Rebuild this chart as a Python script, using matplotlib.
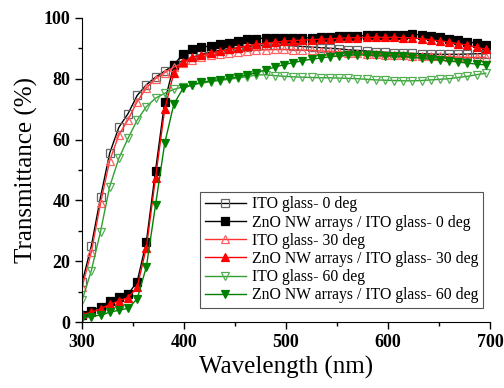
import numpy as np
import matplotlib
matplotlib.use("Agg")
import matplotlib.pyplot as plt
from matplotlib.ticker import MultipleLocator

# Wavelength points (nm), one per marker
wavelength = list(range(300, 700, 9))

# Transmittance (%) for each sample / angle
ito_0 = [13, 25, 41, 55.5, 64, 68.5, 74.5, 78, 80.5, 82.5, 84.5, 86, 87, 88, 88.8,
         89.3, 89.8, 90.2, 90.5, 90.8, 91, 91, 91, 90.8, 90.6, 90.4, 90.2, 90, 89.8,
         89.5, 89.3, 89.1, 88.9, 88.7, 88.5, 88.4, 88.3, 88.2, 88.1, 88, 88, 88, 88.1,
         88.2, 88.2]
zno_0 = [2.3, 3.7, 5, 6.9, 8.3, 9.1, 13.3, 26.4, 49.8, 72.5, 84.5, 88.2, 89.7, 90.3,
         90.8, 91.3, 91.8, 92.4, 92.9, 93.2, 93.3, 93.3, 93.3, 93.3, 93.4, 93.5, 93.6,
         93.8, 93.9, 94, 94.1, 94.2, 94.2, 94.3, 94.4, 94.5, 94.6, 94.4, 94, 93.6, 93.2,
         92.7, 92.2, 91.6, 91]
ito_30 = [11.5, 23, 39, 53, 61.5, 66.5, 72.5, 77, 80, 82, 83.8, 85.2, 86.3, 87.2, 87.8,
          88.2, 88.6, 88.9, 89.2, 89.4, 89.5, 89.6, 89.6, 89.5, 89.4, 89.3, 89.1, 89,
          88.8, 88.6, 88.4, 88.2, 88, 87.9, 87.8, 87.7, 87.6, 87.5, 87.4, 87.3, 87.2,
          87.1, 87, 87, 87]
zno_30 = [2.5, 3.2, 4.3, 5.8, 7, 8, 11.5, 24.5, 47.5, 70, 82, 85.5, 87, 87.8, 88.4, 89,
          89.6, 90.2, 90.8, 91.3, 91.7, 92, 92.3, 92.5, 92.7, 92.8, 93, 93.1, 93.3, 93.4,
          93.5, 93.6, 93.6, 93.6, 93.6, 93.5, 93.4, 93.1, 92.8, 92.4, 92, 91.5, 91, 90.3,
          89.7]
ito_60 = [7.2, 16.9, 29.7, 44.5, 53.8, 60.4, 66.4, 70.8, 73.6, 75.2, 76.5, 77.3, 78,
          78.5, 79, 79.4, 79.8, 80.2, 80.7, 81.2, 81.3, 81, 80.8, 80.6, 80.5, 80.4, 80.3,
          80.3, 80.2, 80.1, 80, 79.8, 79.6, 79.5, 79.4, 79.3, 79.3, 79.4, 79.6, 79.8, 80,
          80.4, 80.8, 81.3, 81.8]
zno_60 = [1.4, 1.8, 2.3, 3.2, 3.9, 4.5, 7.6, 18.2, 38.5, 58.8, 71.7, 76.8, 78, 78.8,
          79.3, 79.7, 80.1, 80.6, 81.2, 82, 82.9, 83.8, 84.6, 85.3, 85.9, 86.4, 86.8,
          87.2, 87.5, 87.7, 87.8, 87.8, 87.7, 87.6, 87.5, 87.3, 87, 86.7, 86.4, 86.1,
          85.8, 85.5, 85.1, 84.8, 84.5]

labels = ["ITO glass- 0 deg", "ZnO NW arrays / ITO glass- 0 deg",
          "ITO glass- 30 deg", "ZnO NW arrays / ITO glass- 30 deg",
          "ITO glass- 60 deg", "ZnO NW arrays / ITO glass- 60 deg"]

plt.rcParams['font.family'] = ['Liberation Serif', 'DejaVu Serif']

fig = plt.figure(figsize=(5.04, 3.88), dpi=100)
ax = fig.add_axes([0.163, 0.170, 0.809, 0.784])

# (data, line colour, marker, face colour, edge colour)
series = [
    (ito_0, 'black', 's', 'none', '#666666'),
    (zno_0, 'black', 's', 'black', 'black'),
    (ito_30, '#ff3030', '^', 'none', '#ff6060'),
    (zno_30, 'red', '^', 'red', 'red'),
    (ito_60, '#30a030', 'v', 'none', '#50b050'),
    (zno_60, 'green', 'v', 'green', 'green'),
]

for (vals, lc, mk, fc, ec), lab in zip(series, labels):
    ax.plot(wavelength, vals, color=lc, lw=1.0, marker=mk, ms=6,
            mfc=fc, mec=ec, mew=0.9, label=lab)

ax.set_xlim(300, 700)
ax.set_ylim(0, 100)
ax.xaxis.set_major_locator(MultipleLocator(100))
ax.xaxis.set_minor_locator(MultipleLocator(50))
ax.yaxis.set_major_locator(MultipleLocator(20))
ax.yaxis.set_minor_locator(MultipleLocator(10))

ax.spines['top'].set_visible(False)
ax.spines['right'].set_visible(False)
ax.tick_params(which='major', direction='out', length=5, width=1)
ax.tick_params(which='minor', direction='out', length=3, width=1)
for lbl in ax.get_xticklabels() + ax.get_yticklabels():
    lbl.set_fontweight('bold')
    lbl.set_fontsize(13)

ax.set_xlabel("Wavelength (nm)", fontsize=18)
ax.set_ylabel("Transmittance (%)", fontsize=18)

leg = ax.legend(loc='lower right', bbox_to_anchor=(0.983, 0.046), fontsize=11.3,
                fancybox=False, framealpha=1, edgecolor='#555555',
                handlelength=2.6, handletextpad=0.4, labelspacing=0.14,
                borderpad=0.3, borderaxespad=0)
leg.get_frame().set_linewidth(0.8)

fig.savefig("out.png", dpi=100)
